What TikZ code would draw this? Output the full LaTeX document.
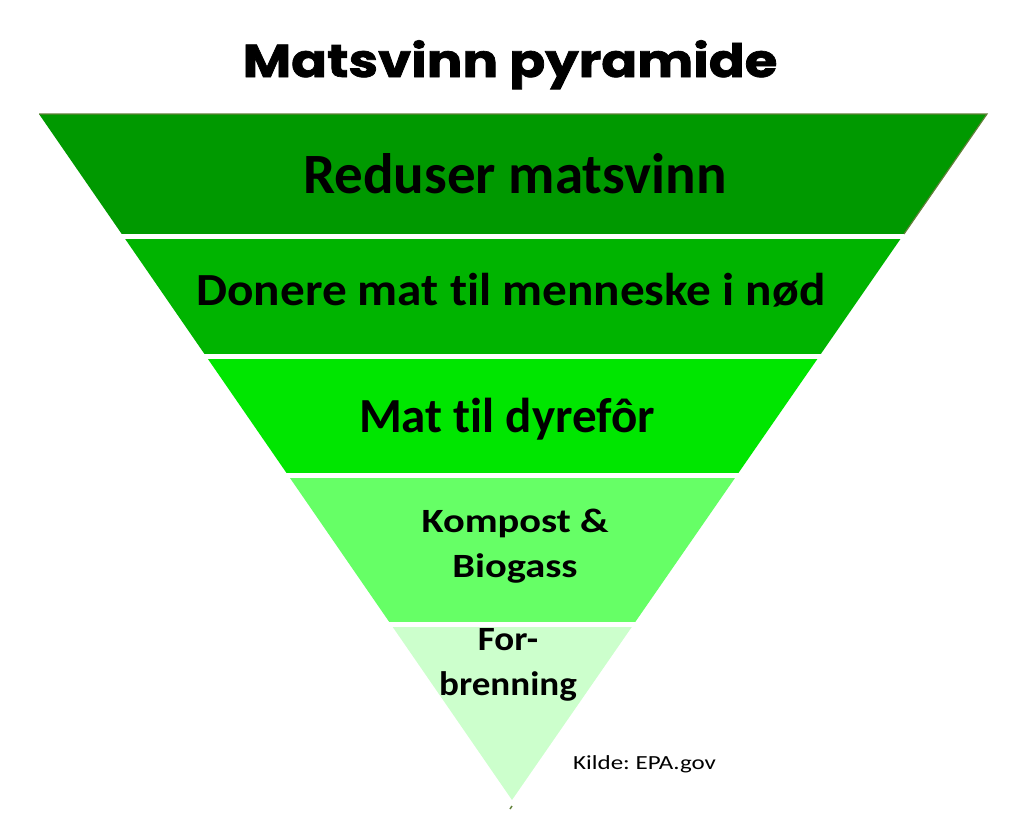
\documentclass[tikz,border=0pt]{standalone}
\usepackage{fontspec}
\setmainfont{Carlito}[Ligatures={NoCommon}]
\newfontfamily\titlefont{Poppins}[BoldFeatures={FakeBold=1.5}]
\definecolor{bandA}{RGB}{0,153,0}
\definecolor{bandB}{RGB}{0,180,0}
\definecolor{bandC}{RGB}{0,230,0}
\definecolor{bandD}{RGB}{102,255,102}
\definecolor{bandE}{RGB}{204,255,204}
\definecolor{rim}{RGB}{96,128,56}
\newcommand\widen[2]{\scalebox{#1}[1]{#2}}
\tikzset{
  layertext/.style={font=\bfseries\fontsize{#1}{60}\selectfont, text=black, inner sep=0pt, anchor=base},
  twoline/.style={font=\bfseries\fontsize{#1}{45}\selectfont, text=black, inner sep=0pt, align=center, anchor=base}
}
\frenchspacing
\begin{document}
\begin{tikzpicture}[x=1pt,y=-1pt]
				\useasboundingbox (0,0) rectangle (1021,814);
				\scope
				\clip (39,114) -- (987,114) -- (512,800) -- cycle;
				\foreach \top/\bot/\col in {114/234/bandA, 239/354/bandB, 359/473/bandC, 478/622/bandD, 627/800/bandE}
					\fill[\col] (0,\top) rectangle (1021,\bot);
				\endscope
				\draw[rim, line width=1.2pt] (39,114) -- (987,114) -- (904,234);
				\draw[rim, line width=1.5pt] (510,809) -- (512,806);
				\node[font=\titlefont\bfseries\fontsize{46}{55}\selectfont, inner sep=0pt, anchor=base] (title) at (510,77) {\widen{1.15}{Matsvinn pyramide}};
				\node[layertext=57] (reduce) at (515,193) {Reduser matsvinn};
				\node[layertext=46] (donate) at (511,305) {\widen{1.07}{Donere mat til menneske i nød}};
				\node[layertext=49] (feed) at (507,432) {Mat til dyrefôr};
				\node[twoline=34] (compost) at (515,577) {\widen{1.19}{Kompost \&}\\\widen{1.19}{Biogass}};
				\node[twoline=34] (burn) at (508,695) {\widen{1.09}{For-}\\\widen{1.09}{brenning}};
				\node[font=\fontsize{20}{24}\selectfont, inner sep=0pt, anchor=base west] (source) at (573,769) {\widen{1.25}{Kilde: EPA.gov}};
			\end{tikzpicture}
\end{document}
